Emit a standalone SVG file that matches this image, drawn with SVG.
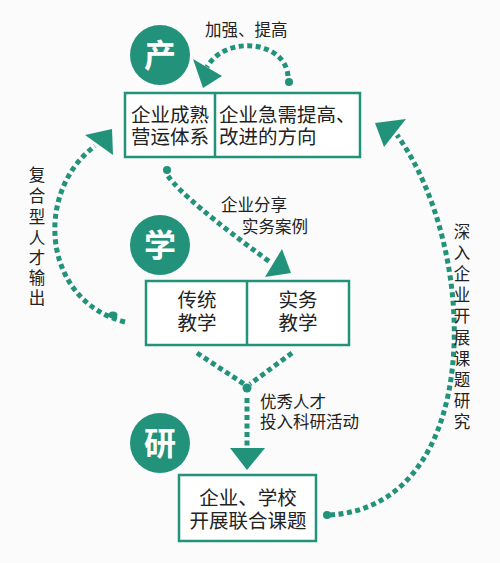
<svg xmlns="http://www.w3.org/2000/svg" width="500" height="563" viewBox="0 0 500 563">
<style>
.box{fill:#fff;stroke:#22937a;stroke-width:2.5}
.div{stroke:#22937a;stroke-width:2.5}
.dot{fill:none;stroke:#22937a;stroke-width:5;stroke-dasharray:5 3.5}
.tc{fill:#22937a}
.t{font-family:"Noto Sans CJK SC","Noto Sans",sans-serif;fill:#222}
.bt{font-size:19.5px}
.lb{font-size:16.5px}
.ct{font-family:"Noto Sans CJK SC","Noto Sans",sans-serif;font-weight:bold;font-size:32px;fill:#fff;text-anchor:middle}
</style>
<rect width="500" height="563" fill="#fbfbfb"/>
<g id="connectors">
<path class="dot" d="M288,76 C285,40 225,35 207,67"/>
<circle class="tc" cx="289" cy="82" r="4"/>
<polygon class="tc" points="193,59 222,76 203,88"/>
<path class="dot" d="M168,176 Q185,200 270,262"/>
<circle class="tc" cx="167" cy="170" r="4"/>
<polygon class="tc" points="265,277 282,249 291,273"/>
<path class="dot" d="M125,322 C40,300 35,190 95,146"/>
<ellipse class="tc" cx="113" cy="315" rx="4.5" ry="3.5"/>
<polygon class="tc" points="112,129 85,135 113,155"/>
<path class="dot" d="M330,515 C485,505 480,250 397,135"/>
<circle class="tc" cx="327" cy="515" r="4"/>
<polygon class="tc" points="375,123 406,119 384,147"/>
<path class="dot" d="M197,353 L244,384"/>
<path class="dot" d="M292,353 L250,384"/>
<circle class="tc" cx="247" cy="388" r="4.5"/>
<path class="dot" d="M247,398 L247,450"/>
<polygon class="tc" points="230,448 265,448 247,470"/>
</g>
<g id="node-chan">
<circle class="tc" cx="160" cy="55" r="30"/>
<text class="ct" x="160" y="67">产</text>
</g>
<g id="node-top-box">
<rect class="box" x="125" y="93" width="235" height="64"/>
<line class="div" x1="215" y1="93" x2="215" y2="157"/>
<text class="t bt" x="170" y="122" text-anchor="middle">企业成熟</text>
<text class="t bt" x="170" y="144" text-anchor="middle">营运体系</text>
<text class="t bt" x="219" y="122">企业急需提高、</text>
<text class="t bt" x="219" y="144">改进的方向</text>
</g>
<g id="node-xue">
<circle class="tc" cx="160" cy="245" r="30"/>
<text class="ct" x="160" y="257">学</text>
</g>
<g id="node-mid-box">
<rect class="box" x="146" y="281" width="203" height="64"/>
<line class="div" x1="247" y1="281" x2="247" y2="345"/>
<text class="t bt" x="197" y="307" text-anchor="middle">传统</text>
<text class="t bt" x="197" y="330" text-anchor="middle">教学</text>
<text class="t bt" x="298" y="307" text-anchor="middle">实务</text>
<text class="t bt" x="298" y="330" text-anchor="middle">教学</text>
</g>
<g id="node-yan">
<circle class="tc" cx="160" cy="443" r="30"/>
<text class="ct" x="160" y="455">研</text>
</g>
<g id="node-bottom-box">
<rect class="box" x="179" y="475" width="137" height="66"/>
<text class="t bt" x="248" y="505" text-anchor="middle">企业、学校</text>
<text class="t bt" x="248" y="528" text-anchor="middle">开展联合课题</text>
</g>
<g id="labels">
<text class="t lb" x="205" y="36">加强、提高</text>
<text class="t lb" x="221" y="211">企业分享</text>
<text class="t lb" x="242" y="233">实务案例</text>
<text class="t lb" x="260" y="408">优秀人才</text>
<text class="t lb" x="260" y="428">投入科研活动</text>
<text class="t lb" text-anchor="middle">
<tspan x="37" y="181">复</tspan><tspan x="37" y="202">合</tspan><tspan x="37" y="223">型</tspan><tspan x="37" y="244">人</tspan><tspan x="37" y="264">才</tspan><tspan x="37" y="284">输</tspan><tspan x="37" y="304">出</tspan>
</text>
<text class="t lb" text-anchor="middle">
<tspan x="462" y="238">深</tspan><tspan x="462" y="259">入</tspan><tspan x="462" y="280">企</tspan><tspan x="462" y="301">业</tspan><tspan x="462" y="322">开</tspan><tspan x="462" y="344">展</tspan><tspan x="462" y="365">课</tspan><tspan x="462" y="386">题</tspan><tspan x="462" y="407">研</tspan><tspan x="462" y="428">究</tspan>
</text>
</g>
</svg>
